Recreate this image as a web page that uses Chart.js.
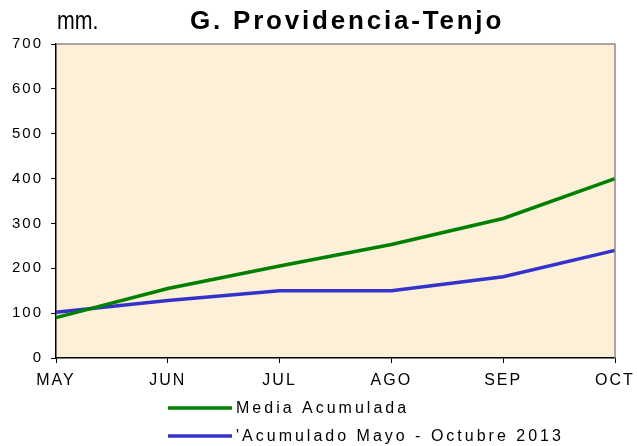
<!DOCTYPE html>
<html>
<head>
<meta charset="utf-8">
<script src="https://cdn.jsdelivr.net/npm/chart.js@4/dist/chart.umd.min.js"></script>
<style>
    html, body { margin: 0; padding: 0; background: #fff; }
    #wrap { width: 637px; height: 446px; position: relative; }
</style>
</head>
<body>
<div id="wrap"><canvas id="chart" width="637" height="446"></canvas></div>
<script>
const months = ['MAY', 'JUN', 'JUL', 'AGO', 'SEP', 'OCT'];
const mediaAcumulada = [90, 155, 205, 253, 311, 400];
const acumulado2013 = [102, 128, 150, 150, 181, 240];
const seriesLabels = ['Media Acumulada', "'Acumulado Mayo - Octubre 2013"];
const yTicks = [0, 100, 200, 300, 400, 500, 600, 700];

const FONT = 'Arial, "Liberation Sans", sans-serif';

// plot background, gray top/right frame, title, unit label and legend
const decorations = {
    id: 'decorations',
    beforeDraw(chart) {
        const { ctx, chartArea: a } = chart;
        ctx.save();
        ctx.fillStyle = '#fcf0d8';
        ctx.fillRect(a.left, a.top, a.right - a.left, a.bottom - a.top);
        ctx.restore();
        // the Excel original renders its tick text widely spaced
        ctx.letterSpacing = '2px';
    },
    afterDraw(chart) {
        const { ctx, chartArea: a } = chart;
        ctx.letterSpacing = '0px';
        ctx.save();
        ctx.strokeStyle = '#8c8c8c';
        ctx.lineWidth = 1.5;
        ctx.beginPath();
        ctx.moveTo(a.left, a.top);
        ctx.lineTo(a.right, a.top);
        ctx.lineTo(a.right, a.bottom);
        ctx.stroke();

        ctx.fillStyle = '#000';
        ctx.textBaseline = 'middle';
        ctx.font = `bold 26px ${FONT}`;
        ctx.letterSpacing = '2.8px';
        ctx.textAlign = 'center';
        ctx.fillText('G. Providencia-Tenjo', 347, 22);

        ctx.save();
        ctx.letterSpacing = '0px';
        ctx.font = `26px ${FONT}`;
        ctx.textAlign = 'left';
        ctx.textBaseline = 'alphabetic';
        ctx.translate(57, 29);
        ctx.scale(0.82, 1);
        ctx.fillText('mm.', 0, 0);
        ctx.restore();

        chart.data.datasets.forEach((ds, i) => {
            const y = 408 + i * 28;
            ctx.strokeStyle = ds.borderColor;
            ctx.lineWidth = 3.5;
            ctx.beginPath();
            ctx.moveTo(168, y);
            ctx.lineTo(232, y);
            ctx.stroke();
            ctx.fillStyle = '#000';
            ctx.font = `16px ${FONT}`;
            ctx.letterSpacing = '3px';
            ctx.textAlign = 'left';
            ctx.textBaseline = 'middle';
            ctx.fillText(ds.label, 236, y + 1);
        });
        ctx.restore();
        ctx.letterSpacing = '0px';
    },
};

new Chart(document.getElementById('chart'), {
    type: 'line',
    data: {
        labels: months,
        datasets: [
            {
                label: seriesLabels[0],
                data: mediaAcumulada,
                borderColor: '#008000',
                borderWidth: 3.5,
                pointRadius: 0,
                tension: 0,
            },
            {
                label: seriesLabels[1],
                data: acumulado2013,
                borderColor: '#3333cc',
                borderWidth: 3.5,
                pointRadius: 0,
                tension: 0,
            },
        ],
    },
    options: {
        responsive: false,
        animation: false,
        layout: { padding: { top: 44, right: 22, bottom: 0, left: 0 } },
        plugins: {
            legend: { display: false },
            title: { display: false },
            tooltip: { enabled: false },
        },
        scales: {
            x: {
                offset: false,
                afterFit: (scale) => {
                    scale.height = 88;
                    scale.paddingLeft = 0;
                    scale.paddingRight = 0;
                },
                grid: { drawOnChartArea: false, drawTicks: true, tickLength: 5, color: '#000' },
                border: { color: '#000', width: 1.5 },
                ticks: { color: '#000', padding: 8, maxRotation: 0, font: { family: FONT, size: 16 } },
            },
            y: {
                min: 0,
                max: 700,
                afterFit: (scale) => {
                    scale.width = 56;
                    scale.paddingTop = 0;
                    scale.paddingBottom = 0;
                },
                afterBuildTicks: (scale) => { scale.ticks = yTicks.map((v) => ({ value: v })); },
                grid: { drawOnChartArea: false, drawTicks: true, tickLength: 5, color: '#000' },
                border: { color: '#000', width: 1.5 },
                ticks: { color: '#000', padding: 8, font: { family: FONT, size: 15 } },
            },
        },
    },
    plugins: [decorations],
});
</script>
</body>
</html>
